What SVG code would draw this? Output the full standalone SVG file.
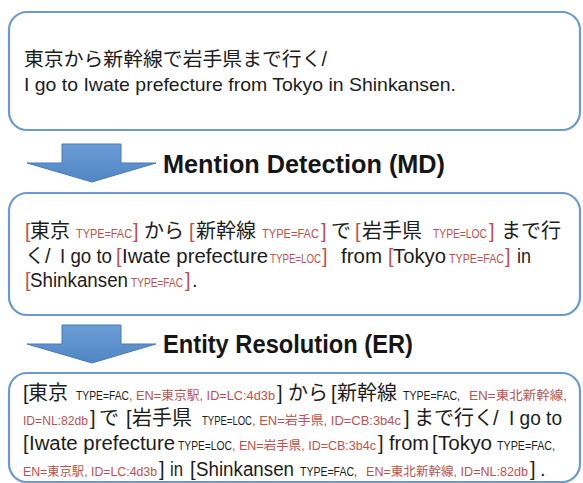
<svg xmlns="http://www.w3.org/2000/svg" width="583" height="483" viewBox="0 0 583 483">
<defs>
<linearGradient id="ag" x1="0" y1="0" x2="0" y2="1">
<stop offset="0" stop-color="#6b9dd6"/>
<stop offset="1" stop-color="#5186c4"/>
</linearGradient>
<polygon id="arrow" points="62,0 121,0 121,19 156,19 92,38 27,19 62,19" fill="url(#ag)" stroke="#4a7bb7" stroke-width="1"/>
</defs>
<style>
text{font-family:"Liberation Sans","Noto Sans CJK JP",sans-serif;fill:#1c1c1c;font-size:20px}
.sm{font-size:12.5px}
.r{fill:#c0504d}
.lbl{font-weight:bold;font-size:25px;fill:#161616}
.box{fill:#fff;stroke:#6a9ad0;stroke-width:2.2}
</style>
<rect width="583" height="483" fill="#fff"/>

<g id="connectors">
<use href="#arrow" y="144"/>
<text class="lbl" x="163" y="173" textLength="282" lengthAdjust="spacingAndGlyphs">Mention Detection (MD)</text>
<use href="#arrow" y="325"/>
<text class="lbl" x="163" y="353" textLength="250" lengthAdjust="spacingAndGlyphs">Entity Resolution (ER)</text>
</g>

<g id="node-input">
<rect class="box" x="9" y="12" width="571" height="118" rx="18"/>
<text x="24" y="66" style="font-size:19.5px" textLength="303" lengthAdjust="spacingAndGlyphs">東京から新幹線で岩手県まで行く/</text>
<text x="24" y="91" style="font-size:19px" textLength="432" lengthAdjust="spacingAndGlyphs">I go to Iwate prefecture from Tokyo in Shinkansen.</text>
</g>

<g id="node-md">
<rect class="box" x="9" y="193" width="571" height="122" rx="18"/>
<!-- line 1 -->
<text class="r" x="25" y="238">[</text>
<text x="30" y="238">東京</text>
<text class="sm r" x="76" y="238" textLength="56" lengthAdjust="spacingAndGlyphs">TYPE=FAC</text>
<text class="r" x="133" y="238">]</text>
<text x="144" y="238">から</text>
<text class="r" x="189" y="238">[</text>
<text x="196" y="238">新幹線</text>
<text class="sm r" x="262" y="238" textLength="57" lengthAdjust="spacingAndGlyphs">TYPE=FAC</text>
<text class="r" x="321" y="238">]</text>
<text x="331" y="238">で</text>
<text class="r" x="355" y="238">[</text>
<text x="362" y="238">岩手県</text>
<text class="sm r" x="433" y="238" textLength="54" lengthAdjust="spacingAndGlyphs">TYPE=LOC</text>
<text class="r" x="489" y="238">]</text>
<text x="501" y="238">まで行</text>
<!-- line 2 -->
<text x="25" y="263">く/</text>
<text x="60" y="263" textLength="52" lengthAdjust="spacingAndGlyphs">I go to</text>
<text class="r" x="116" y="263">[</text>
<text x="122" y="263" textLength="146" lengthAdjust="spacingAndGlyphs">Iwate prefecture</text>
<text class="sm r" x="270" y="263" textLength="51" lengthAdjust="spacingAndGlyphs">TYPE=LOC</text>
<text class="r" x="322" y="263">]</text>
<text x="341" y="263" textLength="41" lengthAdjust="spacingAndGlyphs">from</text>
<text class="r" x="388" y="263">[</text>
<text x="393" y="263" textLength="53" lengthAdjust="spacingAndGlyphs">Tokyo</text>
<text class="sm r" x="449" y="263" textLength="55" lengthAdjust="spacingAndGlyphs">TYPE=FAC</text>
<text class="r" x="505" y="263">]</text>
<text x="517" y="263" textLength="14" lengthAdjust="spacingAndGlyphs">in</text>
<!-- line 3 -->
<text class="r" x="25" y="287">[</text>
<text x="30" y="287" textLength="98" lengthAdjust="spacingAndGlyphs">Shinkansen</text>
<text class="sm r" x="131" y="287" textLength="52" lengthAdjust="spacingAndGlyphs">TYPE=FAC</text>
<text class="r" x="185" y="287">]</text>
<text x="192" y="287">.</text>
</g>

<g id="node-er">
<rect class="box" x="9" y="373" width="571" height="109" rx="18"/>
<!-- line 1 -->
<text x="23" y="400">[</text>
<text x="28" y="400">東京</text>
<text class="sm" x="76" y="400" textLength="53" lengthAdjust="spacingAndGlyphs">TYPE=FAC</text>
<text class="sm r" x="129" y="400" textLength="146" lengthAdjust="spacingAndGlyphs">, EN=東京駅, ID=LC:4d3b</text>
<text x="277" y="400">]</text>
<text x="288" y="400">から</text>
<text x="331" y="400">[</text>
<text x="337" y="400">新幹線</text>
<text class="sm" x="403" y="400" textLength="57" lengthAdjust="spacingAndGlyphs">TYPE=FAC,</text>
<text class="sm r" x="469" y="400" textLength="98" lengthAdjust="spacingAndGlyphs">EN=東北新幹線,</text>
<!-- line 2 -->
<text class="sm r" x="23" y="425" textLength="65" lengthAdjust="spacingAndGlyphs">ID=NL:82db</text>
<text x="90" y="425">]</text>
<text x="99" y="425">で</text>
<text x="126" y="425">[</text>
<text x="132" y="425">岩手県</text>
<text class="sm" x="202" y="425" textLength="50" lengthAdjust="spacingAndGlyphs">TYPE=LOC</text>
<text class="sm r" x="252" y="425" textLength="149" lengthAdjust="spacingAndGlyphs">, EN=岩手県, ID=CB:3b4c</text>
<text x="404" y="425">]</text>
<text x="414" y="425">まで行く</text>
<text x="493" y="425">/</text>
<text x="509" y="425" textLength="53" lengthAdjust="spacingAndGlyphs">I go to</text>
<!-- line 3 -->
<text x="23" y="450">[</text>
<text x="29" y="450" textLength="146" lengthAdjust="spacingAndGlyphs">Iwate prefecture</text>
<text class="sm" x="178" y="450" textLength="54" lengthAdjust="spacingAndGlyphs">TYPE=LOC</text>
<text class="sm r" x="232" y="450" textLength="144" lengthAdjust="spacingAndGlyphs">, EN=岩手県, ID=CB:3b4c</text>
<text x="378" y="450">]</text>
<text x="389" y="450" textLength="40" lengthAdjust="spacingAndGlyphs">from</text>
<text x="432" y="450">[</text>
<text x="438" y="450" textLength="54" lengthAdjust="spacingAndGlyphs">Tokyo</text>
<text class="sm" x="497" y="450" textLength="58" lengthAdjust="spacingAndGlyphs">TYPE=FAC,</text>
<!-- line 4 -->
<text class="sm r" x="23" y="476" textLength="134" lengthAdjust="spacingAndGlyphs">EN=東京駅, ID=LC:4d3b</text>
<text x="159" y="476">]</text>
<text x="170" y="476" textLength="13" lengthAdjust="spacingAndGlyphs">in</text>
<text x="190" y="476">[</text>
<text x="196" y="476" textLength="98" lengthAdjust="spacingAndGlyphs">Shinkansen</text>
<text class="sm" x="300" y="476" textLength="57" lengthAdjust="spacingAndGlyphs">TYPE=FAC,</text>
<text class="sm r" x="366" y="476" textLength="162" lengthAdjust="spacingAndGlyphs">EN=東北新幹線, ID=NL:82db</text>
<text x="530" y="476">]</text>
<text x="540" y="476">.</text>
</g>
</svg>
